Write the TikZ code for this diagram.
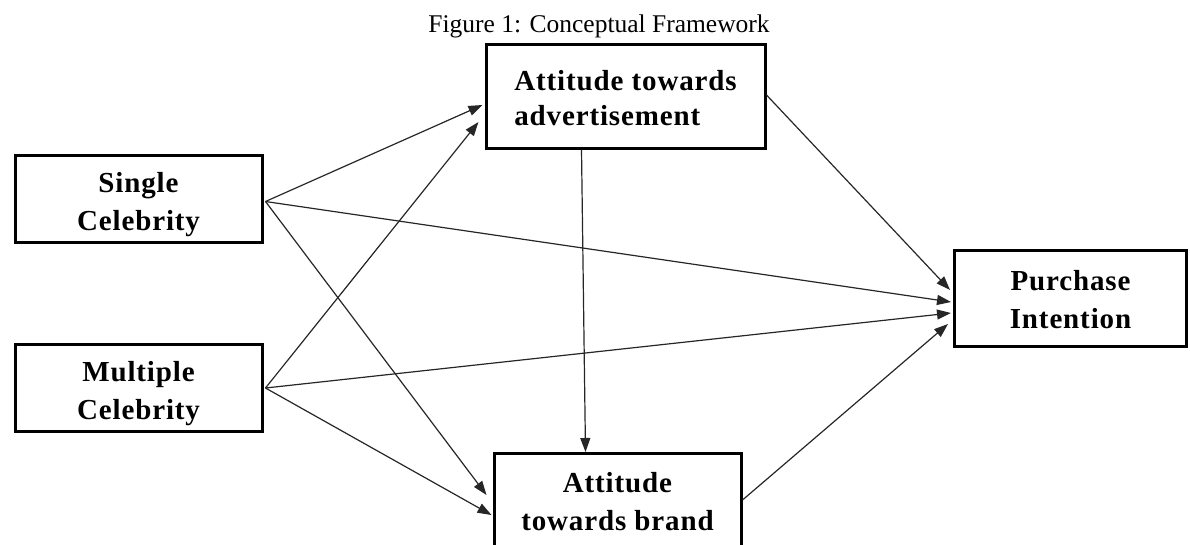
\documentclass[tikz,border=0pt]{standalone}
\usepackage{fontspec}
\setmainfont{Liberation Serif}
\newfontfamily\boxfont[LetterSpace=3]{Liberation Serif}
\newcommand\topgap[1]{\rule{0pt}{#1}}
\usetikzlibrary{arrows.meta,calc}
\begin{document}
\begin{tikzpicture}[x=1pt,y=-1pt,
  box/.style={draw=black,line width=3pt,align=center,inner sep=0pt,
    font=\boxfont\bfseries\fontsize{29}{38}\selectfont},
  conn/.style={draw=black!85,line width=1.2pt,-{Triangle[length=14pt,width=10pt]}}]
\useasboundingbox (0,0) rectangle (1190,544);
\node[anchor=base,font=\fontsize{25.5}{28}\selectfont] (title) at (599,32) {Figure 1: Conceptual Framework};
\node[box,minimum width=247pt,minimum height=87pt] (single) at (138.5,198.5) {\topgap{33pt}Single\\Celebrity};
\node[box,minimum width=247pt,minimum height=87pt] (multiple) at (138.5,388) {\topgap{32pt}Multiple\\Celebrity};
\node[box,align=left,minimum width=279pt,minimum height=104pt,font=\boxfont\bfseries\fontsize{29}{35}\selectfont] (ad) at (625.5,96) {\topgap{24pt}Attitude towards\\advertisement};
\node[box,minimum width=247pt,minimum height=97pt] (brand) at (617.5,502) {Attitude\\towards brand};
\node[box,minimum width=232pt,minimum height=96pt] (purchase) at (1070.5,298) {\topgap{24pt}Purchase\\Intention};
\draw[conn] ($(single.east)+(2,3)$) -- ($(ad.west)+(-2,9)$);
\draw[conn] ($(multiple.east)+(2,0)$) -- ($(ad.west)+(-6,26)$);
\draw[conn] ($(single.east)+(2,3)$) -- ($(brand.west)+(-6,-7)$);
\draw[conn] ($(multiple.east)+(2,0)$) -- ($(brand.west)+(-1,13)$);
\draw[conn] ($(single.east)+(2,3)$) -- ($(purchase.west)+(-2,4)$);
\draw[conn] ($(multiple.east)+(2,0)$) -- ($(purchase.west)+(-2,15)$);
\draw[conn] ($(ad.east)+(0,-1)$) -- ($(purchase.west)+(-3,-8)$);
\draw[conn] ($(ad.south)+(-44,0)$) -- ($(brand.north)+(-32,0)$);
\draw[conn] ($(brand.east)+(0,-2)$) -- ($(purchase.west)+(-5,26)$);
\end{tikzpicture}
\end{document}
